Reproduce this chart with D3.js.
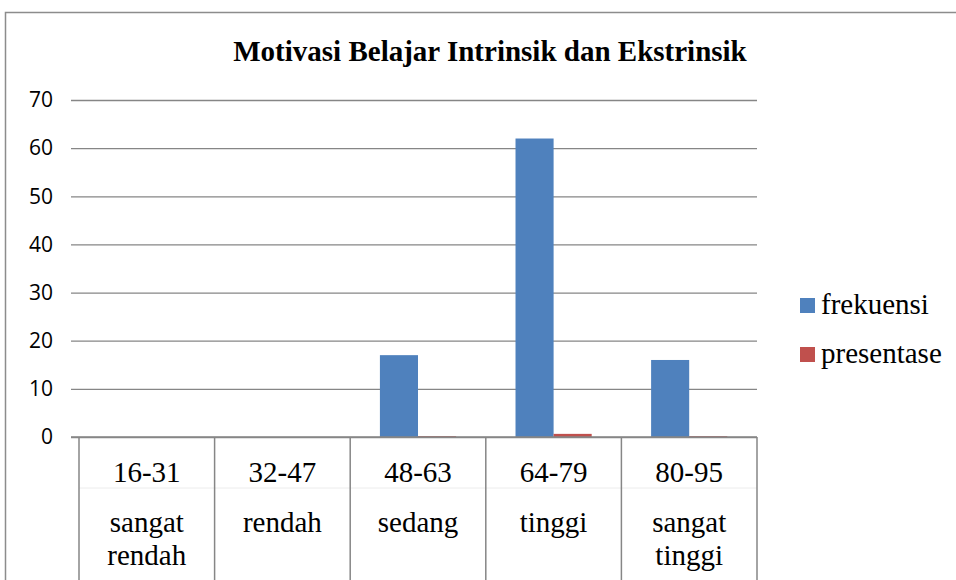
<!DOCTYPE html>
<html>
<head>
<meta charset="utf-8">
<script src="https://cdn.jsdelivr.net/npm/d3@7"></script>
<style>
  body { margin: 0; background: #fff; }
  svg { display: block; }
</style>
</head>
<body>
<svg id="chart" width="956" height="580"></svg>
<script>
// data
const ranges = ['16-31', '32-47', '48-63', '64-79', '80-95'];
const levels = [['sangat', 'rendah'], ['rendah'], ['sedang'], ['tinggi'], ['sangat', 'tinggi']];
const frekuensi = [0, 0, 17, 62, 16];
const presentase = [0, 0, 0.18, 0.65, 0.17];
const seriesNames = ['frekuensi', 'presentase'];
const colors = ['#4f81bd', '#c0504d'];
const yTicks = [0, 10, 20, 30, 40, 50, 60, 70];

const svg = d3.select('#chart');
const grid = '#868686';
const serif = '"Liberation Serif", "Times New Roman", serif';

// outer chart frame
svg.append('rect')
  .attr('x', 5.5).attr('y', 12.5)
  .attr('width', 1000).attr('height', 1000)
  .attr('fill', 'none').attr('stroke', '#8c8c8c').attr('stroke-width', 1.5);

const plot = { left: 79, right: 757, top: 100, bottom: 437 };

const x = d3.scaleBand().domain(ranges).range([plot.left, plot.right]);
const x1 = d3.scaleBand().domain(seriesNames).range([0, x.bandwidth()]).paddingInner(0).paddingOuter(0.78);
const y = d3.scaleLinear().domain([0, 70]).range([plot.bottom, plot.top]);

// title
svg.append('text')
  .attr('x', 490).attr('y', 61)
  .attr('text-anchor', 'middle')
  .attr('font-family', serif)
  .attr('font-weight', 'bold').attr('font-size', 29)
  .text('Motivasi Belajar Intrinsik dan Ekstrinsik');

// y gridlines + labels
const yAxis = d3.axisLeft(y).tickValues(yTicks).tickSizeOuter(0);
const yg = svg.append('g')
  .attr('transform', `translate(${plot.left - 8},0)`)
  .call(yAxis);
yg.select('.domain').remove();
yg.selectAll('.tick line').attr('stroke', grid).attr('stroke-width', 1.3)
  .attr('x1', 0).attr('x2', plot.right - plot.left + 8);
yg.selectAll('.tick text')
  .attr('x', -18)
  .attr('font-family', '"Open Sans", "Liberation Sans", sans-serif')
  .attr('font-size', 21).attr('fill', '#000');

// bars
const groups = svg.append('g').selectAll('g')
  .data(ranges)
  .join('g')
  .attr('transform', d => `translate(${x(d)},0)`);

groups.selectAll('rect')
  .data((d, i) => [frekuensi[i], presentase[i]].map((v, k) => ({ key: seriesNames[k], v, k })))
  .join('rect')
  .attr('x', d => x1(d.key))
  .attr('width', x1.bandwidth())
  .attr('y', d => y(d.v))
  .attr('height', d => Math.max(0, y(0) - y(d.v)))
  .attr('fill', d => colors[d.k]);

// category table below axis
const tbl = svg.append('g');
tbl.append('line')
  .attr('x1', plot.left - 8).attr('x2', plot.right)
  .attr('y1', plot.bottom).attr('y2', plot.bottom)
  .attr('stroke', grid).attr('stroke-width', 1.5);
tbl.append('line')
  .attr('x1', plot.left).attr('x2', plot.right)
  .attr('y1', 488).attr('y2', 488)
  .attr('stroke', '#ececec').attr('stroke-width', 1);
const bounds = ranges.map(d => x(d)).concat([plot.right]);
tbl.selectAll('line.sep')
  .data(bounds)
  .join('line')
  .attr('class', 'sep')
  .attr('x1', d => d).attr('x2', d => d)
  .attr('y1', plot.bottom).attr('y2', 580)
  .attr('stroke', grid).attr('stroke-width', 1.5);

tbl.selectAll('text.range')
  .data(ranges)
  .join('text')
  .attr('class', 'range')
  .attr('x', d => x(d) + x.bandwidth() / 2)
  .attr('y', 482)
  .attr('text-anchor', 'middle')
  .attr('font-family', serif).attr('font-size', 29)
  .text(d => d);

ranges.forEach((r, i) => {
  tbl.selectAll(null)
    .data(levels[i])
    .join('text')
    .attr('x', x(r) + x.bandwidth() / 2)
    .attr('y', (d, j) => 532 + j * 33)
    .attr('text-anchor', 'middle')
    .attr('font-family', serif).attr('font-size', 29)
    .text(d => d);
});

// legend
const legend = svg.append('g').selectAll('g')
  .data(seriesNames)
  .join('g')
  .attr('transform', (d, i) => `translate(800,${298 + i * 49})`);
legend.append('rect')
  .attr('width', 15).attr('height', 15)
  .attr('fill', (d, i) => colors[i]);
legend.append('text')
  .attr('x', 21).attr('y', 16)
  .attr('font-family', serif).attr('font-size', 29)
  .text(d => d);
</script>
</body>
</html>
